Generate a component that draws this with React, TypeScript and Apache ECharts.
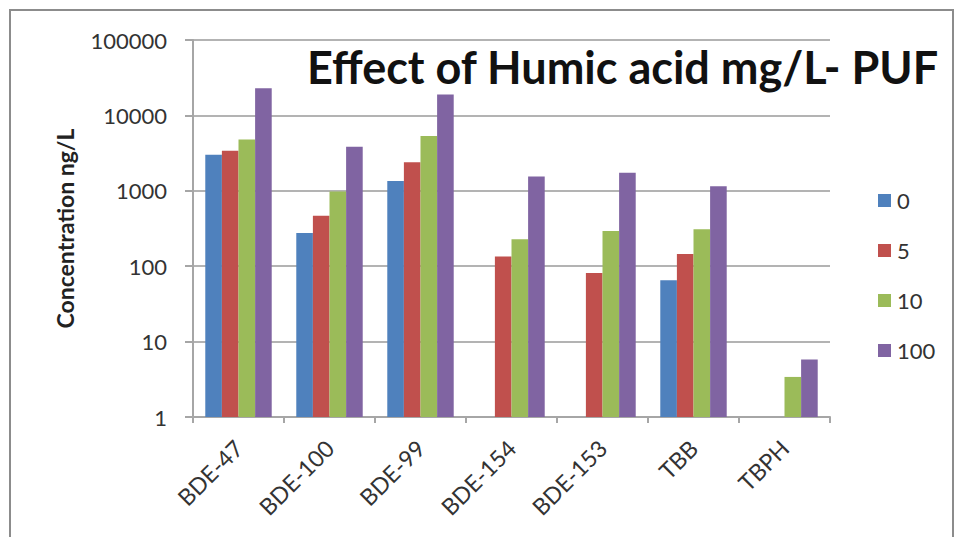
import React, { useEffect, useRef } from "react";
import * as echarts from "echarts";

const categories = ["BDE-47", "BDE-100", "BDE-99", "BDE-154", "BDE-153", "TBB", "TBPH"];
const seriesNames = ["0", "5", "10", "100"];
const values0 = [3000, 275, 1350, null, null, 65, null];
const values5 = [3400, 465, 2400, 134, 81, 145, null];
const values10 = [4800, 980, 5350, 227, 293, 308, 3.4];
const values100 = [22900, 3850, 19000, 1550, 1740, 1150, 5.8];
const colors = ["#4F81BD", "#C0504D", "#9BBB59", "#8064A2"];

export default function App() {
  const ref = useRef<HTMLDivElement>(null);
  useEffect(() => {
    if (!ref.current) return;
    const chart = echarts.init(ref.current, null, { renderer: "svg" });
    const all = [values0, values5, values10, values100];
    chart.setOption({
      animation: false,
      backgroundColor: "#ffffff",
      textStyle: { fontFamily: "Lato" },
      title: {
        text: "Effect of Humic acid mg/L- PUF",
        left: 302,
        top: 39,
        textStyle: { fontFamily: "Lato", fontWeight: "bold", fontSize: 45, color: "#111111" },
      },
      graphic: [
        {
          type: "rect",
          shape: { x: 10, y: 10, width: 943, height: 540 },
          style: { fill: "none", stroke: "#8c8c8c", lineWidth: 2 },
          silent: true,
        },
      ],
      legend: {
        orient: "vertical",
        left: 873,
        top: 184,
        itemWidth: 13,
        itemHeight: 13,
        itemGap: 27,
        icon: "rect",
        textStyle: { fontFamily: "Lato", fontSize: 22, lineHeight: 23, color: "#333333", padding: [0, 0, 0, 1] },
        data: seriesNames,
      },
      grid: { left: 193, right: 125, top: 40, bottom: 120 },
      xAxis: {
        type: "category",
        data: categories,
        axisLine: { lineStyle: { color: "#a6a6a6", width: 2 } },
        axisTick: { show: true, length: 6, lineStyle: { color: "#a6a6a6", width: 2 } },
        axisLabel: { rotate: 45, fontSize: 23, color: "#333333", margin: 27, fontFamily: "Lato" },
      },
      yAxis: {
        type: "log",
        logBase: 10,
        min: 1,
        max: 100000,
        name: "Concentration ng/L",
        nameLocation: "middle",
        nameGap: 117,
        nameTextStyle: { fontFamily: "Lato", fontWeight: "bold", fontSize: 23, color: "#222222" },
        axisLine: { show: true, lineStyle: { color: "#a6a6a6", width: 2 } },
        axisTick: { show: true, length: 8, lineStyle: { color: "#a6a6a6", width: 2 } },
        axisLabel: {
          fontSize: 22,
          color: "#333333",
          margin: 26,
          fontFamily: "Lato",
          formatter: (v: number) => String(Math.round(v)),
        },
        splitLine: { show: true, lineStyle: { color: "#b3b3b3", width: 2 } },
      },
      series: seriesNames.map((n, i) => ({
        name: n,
        type: "bar",
        data: all[i].map((v) => (v == null ? "-" : v)),
        barGap: "0%",
        barCategoryGap: "27%",
        itemStyle: { color: colors[i] },
      })),
    });
    return () => chart.dispose();
  }, []);
  return <div ref={ref} style={{ position: "fixed", left: 0, top: 0, width: 955, height: 537 }} />;
}
